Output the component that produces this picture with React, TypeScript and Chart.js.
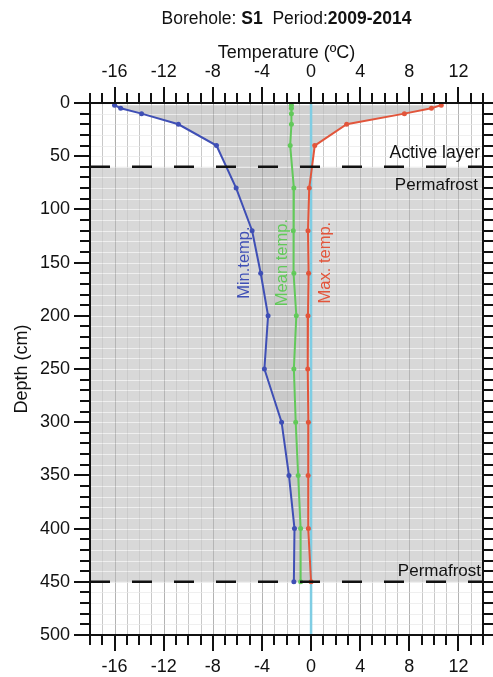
import React, { useEffect, useRef } from "react";
import { Chart, registerables } from "chart.js";

Chart.register(...registerables);

// ---- Data ----
const depths = [2, 5, 10, 20, 40, 80, 120, 160, 200, 250, 300, 350, 400, 450];
const minTemp = [-16.0, -15.5, -13.8, -10.8, -7.7, -6.1, -4.8, -4.1, -3.5, -3.8, -2.4, -1.8, -1.35, -1.4];
const meanTemp = [-1.6, -1.6, -1.6, -1.6, -1.7, -1.4, -1.45, -1.4, -1.2, -1.4, -1.25, -1.05, -0.85, -0.85];
const maxTemp = [10.6, 9.8, 7.6, 2.9, 0.3, -0.15, -0.25, -0.2, -0.25, -0.27, -0.22, -0.24, -0.22, 0.0];
const tempTicks = [-16, -12, -8, -4, 0, 4, 8, 12];
const depthTicks = [0, 50, 100, 150, 200, 250, 300, 350, 400, 450, 500];
const activeLayerBase = 60;
const permafrostBase = 450;
const tempMin = -18;
const tempMax = 14;
const depthMax = 500;

const FONT = "'Liberation Sans', Arial, Helvetica, sans-serif";
const BLUE = "#3f4fb5";
const GREEN = "#62c95a";
const RED = "#e2553b";
const CYAN = "#7fcde3";

const toPts = (xs: number[]) => xs.map((v, i) => ({ x: v, y: depths[i] }));

const boreholePlugin = {
  id: "borehole",
  beforeDatasetsDraw(chart: any) {
    const { ctx, chartArea: a, scales } = chart;
    const xs = scales.x;
    const ys = scales.y;
    ctx.save();
    ctx.lineWidth = 1;
    // light base grid
    ctx.strokeStyle = "#d6d6d6";
    for (let d = 0; d <= depthMax; d += 10) {
      const y = Math.round(ys.getPixelForValue(d)) + 0.5;
      ctx.beginPath();
      ctx.moveTo(a.left, y);
      ctx.lineTo(a.right, y);
      ctx.stroke();
    }
    for (let t = tempMin; t <= tempMax; t += 1) {
      const x = Math.round(xs.getPixelForValue(t)) + 0.5;
      ctx.beginPath();
      ctx.moveTo(x, a.top);
      ctx.lineTo(x, a.bottom);
      ctx.stroke();
    }
    // permafrost band
    const y60 = ys.getPixelForValue(activeLayerBase);
    const y450 = ys.getPixelForValue(permafrostBase);
    ctx.fillStyle = "#d8d8d8";
    ctx.fillRect(a.left, y60, a.width, y450 - y60);
    // envelope between min and max
    const minPts = chart.getDatasetMeta(2).data;
    const maxPts = chart.getDatasetMeta(4).data;
    const env = new Path2D();
    minPts.forEach((p: any, i: number) => (i === 0 ? env.moveTo(p.x, p.y) : env.lineTo(p.x, p.y)));
    for (let i = maxPts.length - 1; i >= 0; i--) env.lineTo(maxPts[i].x, maxPts[i].y);
    env.closePath();
    ctx.save();
    ctx.beginPath();
    ctx.rect(a.left, a.top, a.width, y60 - a.top);
    ctx.clip();
    ctx.fillStyle = "#d0d0d0";
    ctx.fill(env);
    ctx.restore();
    ctx.save();
    ctx.beginPath();
    ctx.rect(a.left, y60, a.width, y450 - y60);
    ctx.clip();
    ctx.fillStyle = "#c9c9c9";
    ctx.fill(env);
    ctx.restore();
    // white horizontal lines over gray
    ctx.strokeStyle = "rgba(255,255,255,0.6)";
    for (let d = 0; d <= depthMax; d += 10) {
      const y = Math.round(ys.getPixelForValue(d)) + 0.5;
      ctx.beginPath();
      ctx.moveTo(a.left, y);
      ctx.lineTo(a.right, y);
      ctx.stroke();
    }
    // vertical lines over
    for (let t = tempMin; t <= tempMax; t += 1) {
      const x = Math.round(xs.getPixelForValue(t)) + 0.5;
      ctx.strokeStyle = t % 4 === 0 ? "rgba(0,0,0,0.16)" : "rgba(0,0,0,0.06)";
      ctx.beginPath();
      ctx.moveTo(x, a.top);
      ctx.lineTo(x, a.bottom);
      ctx.stroke();
    }
    ctx.restore();
  },
  afterDraw(chart: any) {
    const { ctx, chartArea: a, scales } = chart;
    const xs = scales.x;
    const ys = scales.y;
    ctx.save();
    ctx.strokeStyle = "#111";
    ctx.lineWidth = 2;
    ctx.beginPath();
    ctx.rect(a.left, a.top, a.right - a.left, a.bottom - a.top);
    ctx.stroke();
    // temperature ticks
    for (let t = tempMin; t <= tempMax; t += 1) {
      const x = Math.round(xs.getPixelForValue(t));
      const len = t % 4 === 0 ? 16 : 10;
      ctx.beginPath();
      ctx.moveTo(x, a.top);
      ctx.lineTo(x, a.top - len);
      ctx.moveTo(x, a.bottom);
      ctx.lineTo(x, a.bottom + len);
      ctx.stroke();
    }
    // depth ticks
    for (let d = 0; d <= depthMax; d += 10) {
      const y = Math.round(ys.getPixelForValue(d));
      const len = d % 50 === 0 ? 16 : 10;
      ctx.beginPath();
      ctx.moveTo(a.left, y);
      ctx.lineTo(a.left - len, y);
      ctx.moveTo(a.right, y);
      ctx.lineTo(a.right + 12, y);
      ctx.stroke();
    }
    // title
    const parts: [string, boolean][] = [
      ["Borehole: ", false],
      ["S1", true],
      ["  Period:", false],
      ["2009-2014", true],
    ];
    const fs = 17.5;
    let total = 0;
    parts.forEach(([s, b]) => {
      ctx.font = `${b ? "bold " : ""}${fs}px ${FONT}`;
      total += ctx.measureText(s).width;
    });
    let tx = (a.left + a.right) / 2 - total / 2;
    ctx.fillStyle = "#111";
    ctx.textBaseline = "middle";
    ctx.textAlign = "left";
    parts.forEach(([s, b]) => {
      ctx.font = `${b ? "bold " : ""}${fs}px ${FONT}`;
      ctx.fillText(s, tx, 19);
      tx += ctx.measureText(s).width;
    });
    // layer labels
    const y60 = ys.getPixelForValue(activeLayerBase);
    const y450 = ys.getPixelForValue(permafrostBase);
    ctx.font = `17.5px ${FONT}`;
    ctx.textAlign = "right";
    ctx.textBaseline = "alphabetic";
    ctx.fillText("Active layer", a.right - 3, y60 - 9);
    ctx.font = `17px ${FONT}`;
    ctx.fillText("Permafrost", a.right - 5, y60 + 23);
    ctx.fillText("Permafrost", a.right - 2, y450 - 6);
    // series labels (rotated)
    const rot = (text: string, color: string, t: number, d: number) => {
      ctx.save();
      ctx.translate(xs.getPixelForValue(t), ys.getPixelForValue(d));
      ctx.rotate(-Math.PI / 2);
      ctx.fillStyle = color;
      ctx.font = `16.5px ${FONT}`;
      ctx.textAlign = "center";
      ctx.textBaseline = "middle";
      ctx.fillText(text, 0, 0);
      ctx.restore();
    };
    rot("Min.temp.", BLUE, -5.4, 150);
    rot("Mean temp.", GREEN, -2.3, 150);
    rot("Max. temp.", RED, 1.2, 150);
    ctx.restore();
  },
};

export default function App() {
  const ref = useRef<HTMLCanvasElement | null>(null);
  useEffect(() => {
    if (!ref.current) return;
    const tickFont = { family: FONT, size: 18 };
    const setTicks = (vals: number[]) => (s: any) => {
      s.ticks = vals.map((v) => ({ value: v }));
    };
    const chart = new Chart(ref.current, {
      type: "scatter",
      data: {
        datasets: [
          {
            data: [
              { x: tempMin, y: activeLayerBase },
              { x: tempMax, y: activeLayerBase },
            ],
            showLine: true,
            borderColor: "#111",
            borderWidth: 2.5,
            borderDash: [20, 22],
            pointRadius: 0,
          },
          {
            data: [
              { x: tempMin, y: permafrostBase },
              { x: tempMax, y: permafrostBase },
            ],
            showLine: true,
            borderColor: "#111",
            borderWidth: 2.5,
            borderDash: [20, 22],
            pointRadius: 0,
          },
          {
            data: toPts(minTemp),
            showLine: true,
            borderColor: BLUE,
            borderWidth: 2,
            pointRadius: 2.5,
            pointBackgroundColor: BLUE,
            pointBorderWidth: 0,
          },
          {
            data: toPts(meanTemp),
            showLine: true,
            borderColor: GREEN,
            borderWidth: 2,
            pointRadius: 2.5,
            pointBackgroundColor: GREEN,
            pointBorderWidth: 0,
          },
          {
            data: toPts(maxTemp),
            showLine: true,
            borderColor: RED,
            borderWidth: 2,
            pointRadius: 2.5,
            pointBackgroundColor: RED,
            pointBorderWidth: 0,
          },
          {
            data: [
              { x: 0, y: 0 },
              { x: 0, y: depthMax },
            ],
            showLine: true,
            borderColor: CYAN,
            borderWidth: 2.5,
            pointRadius: 0,
          },
        ],
      },
      options: {
        responsive: false,
        animation: false,
        layout: { padding: { left: 0, right: 10, top: 0, bottom: 0 } },
        plugins: { legend: { display: false }, tooltip: { enabled: false } },
        scales: {
          x: {
            type: "linear",
            position: "top",
            min: tempMin,
            max: tempMax,
            afterBuildTicks: setTicks(tempTicks),
            afterFit: (s: any) => {
              s.height = 103;
            },
            ticks: { font: tickFont, color: "#111", padding: 20, autoSkip: false, maxRotation: 0 },
            grid: { display: false, drawTicks: false },
            border: { display: false },
            title: {
              display: true,
              text: "Temperature (ºC)",
              font: { family: FONT, size: 18 },
              color: "#111",
              padding: { top: 42, bottom: 0 },
            },
          },
          x2: {
            type: "linear",
            position: "bottom",
            min: tempMin,
            max: tempMax,
            afterBuildTicks: setTicks(tempTicks),
            afterFit: (s: any) => {
              s.height = 42;
            },
            ticks: { font: tickFont, color: "#111", padding: 21, autoSkip: false, maxRotation: 0 },
            grid: { display: false, drawTicks: false },
            border: { display: false },
          },
          y: {
            type: "linear",
            position: "left",
            min: 0,
            max: depthMax,
            reverse: true,
            afterBuildTicks: setTicks(depthTicks),
            afterFit: (s: any) => {
              s.width = 90;
            },
            ticks: { font: tickFont, color: "#111", padding: 20, autoSkip: false },
            grid: { display: false, drawTicks: false },
            border: { display: false },
            title: {
              display: true,
              text: "Depth (cm)",
              font: { family: FONT, size: 18 },
              color: "#111",
              padding: { top: 11, bottom: 0 },
            },
          },
        },
      },
      plugins: [boreholePlugin],
    } as any);
    return () => chart.destroy();
  }, []);
  return (
    <div style={{ position: "absolute", left: 0, top: 0, width: 493, height: 677, background: "#fff" }}>
      <canvas ref={ref} width={493} height={677} />
    </div>
  );
}
